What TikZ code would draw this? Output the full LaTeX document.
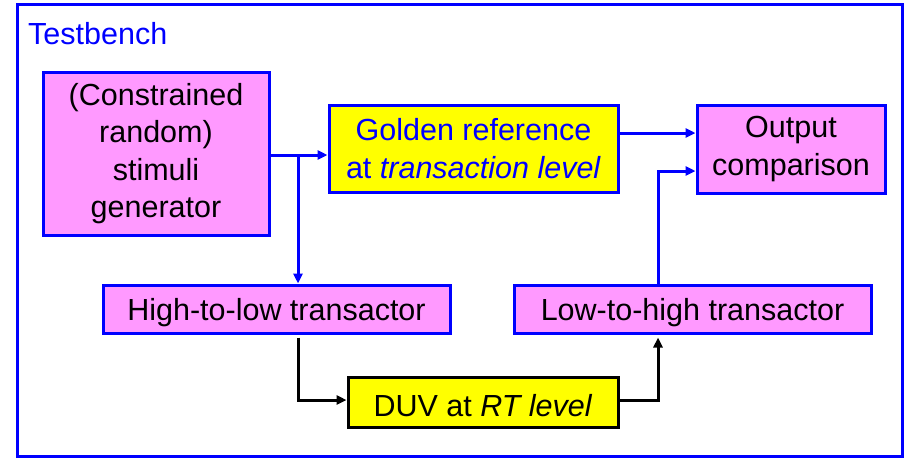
\documentclass[tikz,border=0pt]{standalone}
\usepackage{fontspec}
\setmainfont{Liberation Sans}
\usetikzlibrary{arrows.meta, positioning}
\definecolor{tbblue}{RGB}{0,0,255}
\definecolor{tbpink}{RGB}{255,153,255}
\definecolor{tbyellow}{RGB}{255,255,0}

\tikzset{
  pinkbox/.style={draw=tbblue, fill=tbpink, line width=3pt, align=center, inner sep=0pt},
  yellowbox/.style={draw=tbblue, fill=tbyellow, line width=3pt, align=center, inner sep=0pt},
  bluewire/.style={draw=tbblue, line width=3pt, -{Triangle[length=10pt,width=9pt]}},
  blackwire/.style={draw=black, line width=3pt, -{Triangle[length=10pt,width=9pt]}}
}
% one-line labels sit a little low in their boxes
\newcommand{\lowtext}[1]{\raisebox{-3.5pt}[\height][\depth]{#1}}

\begin{document}
\begin{tikzpicture}[x=1pt, y=-1pt, font=\fontsize{30.5}{37.5}\selectfont]
    \useasboundingbox (0,0) rectangle (907,458);

    % Testbench frame
    \draw[tbblue, line width=3pt] (17,4) rectangle (902,456);
    \node[anchor=west, text=tbblue, inner sep=0pt] (tb) at (28,34) {Testbench};

    % Blocks
    \node[pinkbox, minimum width=226pt, minimum height=163pt] (stim) at (156,153.5) {(Constrained\\random)\\stimuli\\generator};
    \node[yellowbox, text=tbblue, minimum width=289pt, minimum height=87pt] (gold) at (473.5,148.5) {Golden reference\\at \textit{transaction level}};
    \node[pinkbox, minimum width=188pt, minimum height=88pt] (out) at (791,149) {Output\\comparison};
    \node[pinkbox, minimum width=347pt, minimum height=48pt] (hl) at (276.5,309) {\lowtext{High-to-low transactor}};
    \node[pinkbox, minimum width=357pt, minimum height=48pt] (lh) at (692.5,309) {\lowtext{Low-to-high transactor}};
    \node[yellowbox, draw=black, minimum width=270pt, minimum height=50pt] (duv) at (483,402) {\lowtext{DUV at \textit{RT level}}};

    % Stimuli fan-out
    \coordinate (split) at (298,155);
    \draw[bluewire] (stim.east |- split) -- (gold.west |- split);
    \draw[bluewire] (split) -- (hl.north -| split);

    % Into the comparison
    \draw[bluewire] ([yshift=15.5pt]gold.east) -- ([yshift=15.5pt]gold.east -| out.west);
    \draw[bluewire] ([xshift=-34.5pt]lh.north) |- ([yshift=-22pt]out.west);

    % Through the DUV
    \draw[blackwire, shorten <=3pt] (hl.south -| split) |- ([yshift=2pt]duv.west);
    \draw[blackwire, shorten >=3pt] ([yshift=2pt]duv.east) -| ([xshift=-34.5pt]lh.south);
\end{tikzpicture}
\end{document}
